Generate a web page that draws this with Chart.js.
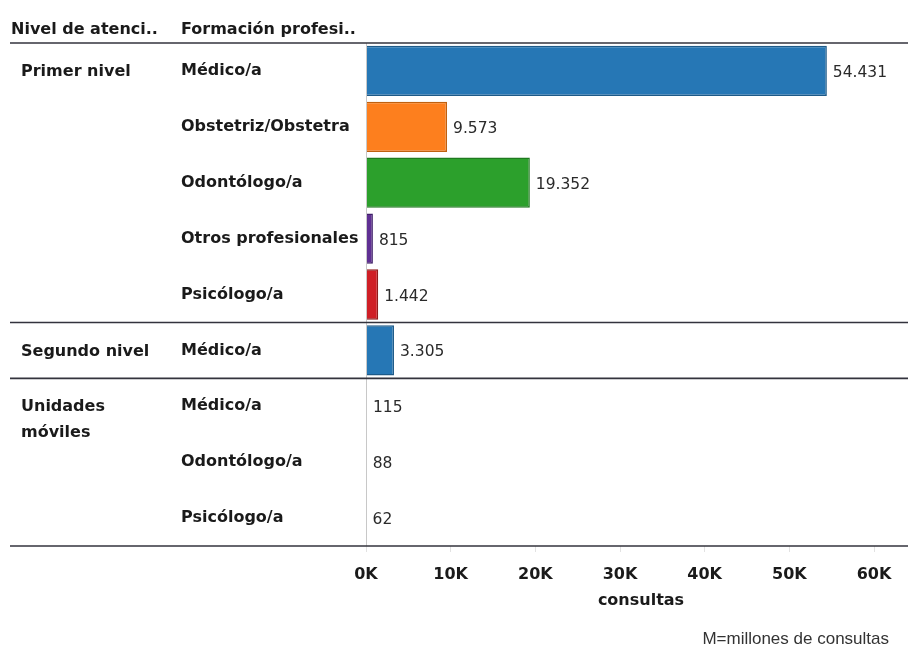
<!DOCTYPE html>
<html><head><meta charset="utf-8">
<script src="https://cdn.jsdelivr.net/npm/chart.js@4.4.1/dist/chart.umd.min.js"></script>
<style>html,body{margin:0;padding:0;background:#fff}#wrap{width:908px;height:649px;position:relative}</style>
</head><body><div id="wrap"><canvas id="c" width="908" height="649"></canvas></div>
<script>
const headerLevel = 'Nivel de atenci..';
const headerProfession = 'Formación profesi..';
const levels = ['Primer nivel','Primer nivel','Primer nivel','Primer nivel','Primer nivel','Segundo nivel','Unidades móviles','Unidades móviles','Unidades móviles'];
const professions = ['Médico/a','Obstetriz/Obstetra','Odontólogo/a','Otros profesionales','Psicólogo/a','Médico/a','Médico/a','Odontólogo/a','Psicólogo/a'];
const consultas = [54431, 9573, 19352, 815, 1442, 3305, 115, 88, 62];
const xTicks = [0, 10000, 20000, 30000, 40000, 50000, 60000];
const axisTitle = 'consultas';
const footnote = 'M=millones de consultas';

const fillByProf = {'Médico/a':'#2677b5','Obstetriz/Obstetra':'#fd7f1e','Odontólogo/a':'#2ca02c','Otros profesionales':'#5f2f93','Psicólogo/a':'#cf1f26'};
const borderByProf = {'Médico/a':'#1d5a88','Obstetriz/Obstetra':'#c0600f','Odontólogo/a':'#1f7a1f','Otros profesionales':'#3f1f68','Psicólogo/a':'#8f1a1a'};

const FONT = '"DejaVu Sans", "Open Sans", sans-serif';
const fmt = v => String(v).replace(/\B(?=(\d{3})+(?!\d))/g, '.');

const tablePlugin = {
  id: 'table',
  afterDraw(chart) {
    const ctx = chart.ctx, ca = chart.chartArea, y = chart.scales.y, x = chart.scales.x;
    ctx.save();
    // zero line
    ctx.strokeStyle = '#c8c8c8'; ctx.lineWidth = 1;
    const x0 = Math.round(x.getPixelForValue(0)) + 0.5;
    ctx.beginPath(); ctx.moveTo(x0, ca.top); ctx.lineTo(x0, ca.bottom); ctx.stroke();
    // headers
    ctx.fillStyle = '#1a1a1a';
    ctx.font = 'bold 16px ' + FONT;
    ctx.textBaseline = 'middle'; ctx.textAlign = 'left';
    ctx.fillText(headerLevel, 11, 30);
    ctx.fillText(headerProfession, 181, 30);
    // level labels
    const step = (y.getPixelForValue(1) - y.getPixelForValue(0));
    levels.forEach((lv, i) => {
      if (i > 0 && levels[i-1] === lv) return;
      const py = y.getPixelForValue(i);
      const words = lv === 'Unidades móviles' ? ['Unidades', 'móviles'] : [lv];
      words.forEach((w, k) => ctx.fillText(w, 21, py + 1 + k * 26));
    });
    // axis title
    ctx.textAlign = 'center';
    ctx.fillText(axisTitle, 641, 601);
    // lines
    ctx.strokeStyle = '#33333d'; ctx.lineWidth = 1.6;
    const hline = yy => { ctx.beginPath(); ctx.moveTo(10, yy); ctx.lineTo(908, yy); ctx.stroke(); };
    hline(ca.top);
    levels.forEach((lv, i) => {
      if (i > 0 && levels[i-1] !== lv) hline(y.getPixelForValue(i) - step / 2);
    });
    hline(ca.bottom);
    // value labels
    ctx.fillStyle = '#2a2a2a';
    ctx.textAlign = 'left';
    ctx.font = '15.5px ' + FONT;
    const meta = chart.getDatasetMeta(0);
    meta.data.forEach((bar, i) => {
      ctx.fillText(fmt(consultas[i]), bar.x + 6, bar.y + 2);
    });
    // footnote
    ctx.font = '17px "Liberation Sans", Arial, sans-serif';
    ctx.fillStyle = '#333'; ctx.textAlign = 'right';
    ctx.fillText(footnote, 889, 639);
    ctx.restore();
  }
};

new Chart(document.getElementById('c'), {
  type: 'bar',
  data: {
    labels: professions,
    datasets: [{
      data: consultas,
      backgroundColor: professions.map(p => fillByProf[p]),
      borderColor: professions.map(p => borderByProf[p]),
      borderWidth: 1.5,
      barPercentage: 0.9,
      categoryPercentage: 1
    }]
  },
  options: {
    indexAxis: 'y',
    responsive: false,
    animation: false,
    layout: { padding: { left: 181, right: 34, top: 43, bottom: 37 } },
    plugins: { legend: { display: false }, tooltip: { enabled: false } },
    scales: {
      x: {
        min: 0, max: 60000,
        afterBuildTicks: s => { s.ticks = xTicks.map(v => ({ value: v })); },
        afterFit: s => { s.height = 66; },
        grid: { display: true, drawOnChartArea: false, drawTicks: true, tickLength: 6, color: '#e2e2e2' },
        border: { display: false },
        ticks: {
          padding: 13, color: '#1a1a1a', maxRotation: 0,
          font: { family: FONT, size: 16, weight: 'bold' },
          callback: v => (v / 1000) + 'K'
        },
        title: { display: false }
      },
      y: {
        afterFit: s => { s.width = 185; },
        grid: { display: false },
        border: { display: false },
        ticks: {
          crossAlign: 'far', color: '#1a1a1a', padding: 0,
          font: { family: FONT, size: 16, weight: 'bold' },
          autoSkip: false
        }
      }
    }
  },
  plugins: [tablePlugin]
});
</script></body></html>
